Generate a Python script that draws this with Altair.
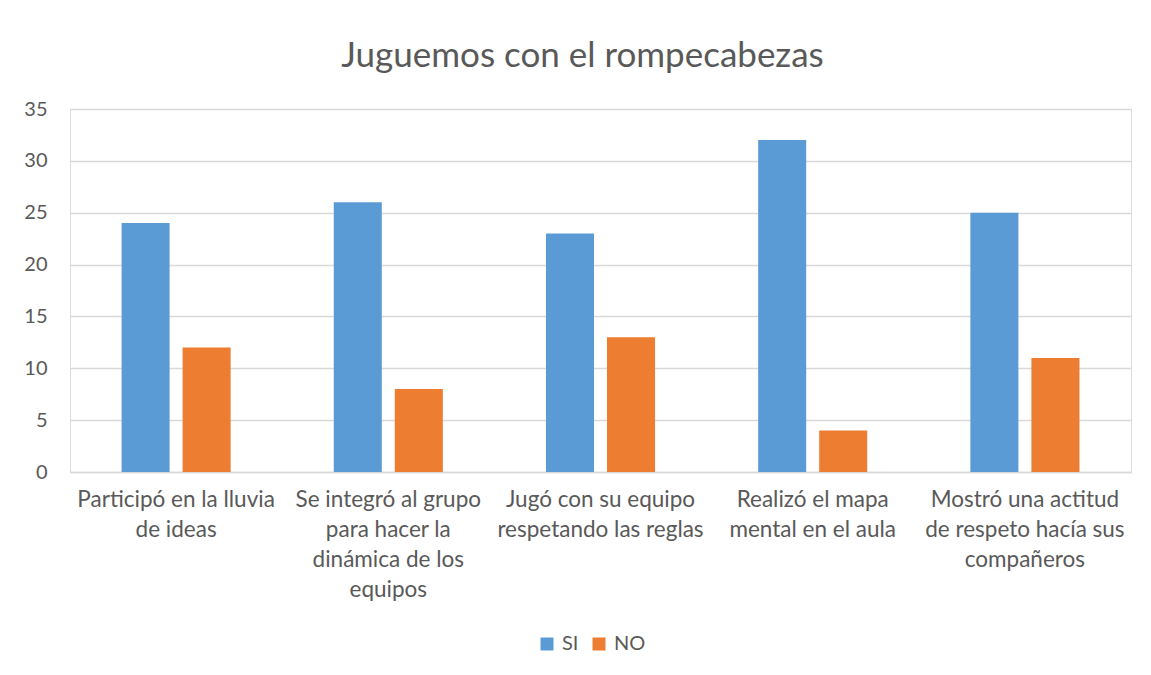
import altair as alt
import pandas as pd

categories = [
    "Participó en la lluvia|de ideas",
    "Se integró al grupo|para hacer la|dinámica de los|equipos",
    "Jugó con su equipo|respetando las reglas",
    "Realizó el mapa|mental en el aula",
    "Mostró una actitud|de respeto hacía sus|compañeros",
]
series = ["SI", "NO"]
si_values = [24, 26, 23, 32, 25]
no_values = [12, 8, 13, 4, 11]
y_ticks = [0, 5, 10, 15, 20, 25, 30, 35]
colors = ["#5B9BD5", "#ED7D31"]

rows = []
for c, s, n in zip(categories, si_values, no_values):
    rows.append({"cat": c, "serie": "SI", "valor": s})
    rows.append({"cat": c, "serie": "NO", "valor": n})
df = pd.DataFrame(rows)

FONT = "Lato"
TXT = "#595959"

chart = alt.Chart(df).mark_bar().encode(
    x=alt.X("cat:N", sort=categories, title=None,
            scale=alt.Scale(paddingInner=0.486, paddingOuter=0.243),
            axis=alt.Axis(labelAngle=0, labelExpr="split(datum.label, '|')",
                          labelFontSize=22.5, labelColor=TXT, labelFont=FONT,
                          labelLineHeight=30, labelPadding=16, labelLimit=300,
                          ticks=False, domainColor="#D9D9D9", domainWidth=1.5,
                          labelBaseline="top")),
    xOffset=alt.XOffset("serie:N", sort=series,
                        scale=alt.Scale(paddingInner=0.213, paddingOuter=0)),
    y=alt.Y("valor:Q", title=None,
            scale=alt.Scale(domain=[0, 35], nice=False),
            axis=alt.Axis(values=y_ticks, labelFontSize=20, labelColor=TXT,
                          labelFont=FONT, labelPadding=23, ticks=False,
                          domain=False, gridColor="#D9D9D9", gridWidth=1.5)),
    color=alt.Color("serie:N", sort=series, title=None,
                    scale=alt.Scale(domain=series, range=colors),
                    legend=alt.Legend(orient="none", direction="horizontal",
                                      legendX=467, legendY=525,
                                      symbolType="square", symbolSize=169,
                                      symbolStrokeWidth=0,
                                      labelFontSize=20, labelColor=TXT,
                                      labelFont=FONT, columnPadding=10,
                                      labelOffset=5)),
).properties(
    width=1061,
    height=363,
    title=alt.TitleParams("Juguemos con el rompecabezas", fontSize=35,
                          font=FONT, color=TXT, fontWeight="normal",
                          anchor="middle", offset=25, dx=-18),
    autosize=alt.AutoSizeParams(type="none"),
    padding={"left": 62, "top": 101, "right": 12, "bottom": 195},
).configure_view(stroke=None).configure(background="white")

chart.save("out.html", embed_options={"renderer": "svg", "actions": False})
